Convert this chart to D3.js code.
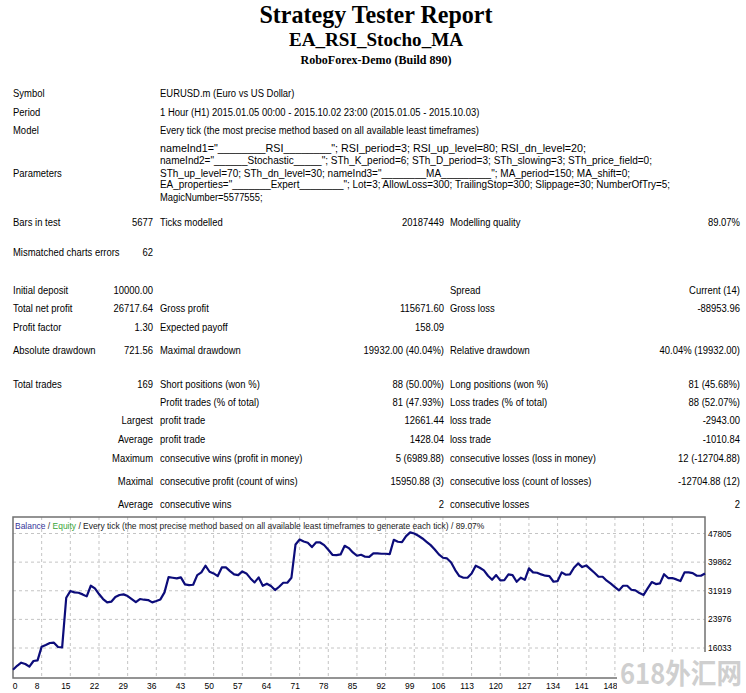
<!DOCTYPE html>
<html>
<head>
<meta charset="utf-8">
<script src="https://cdn.jsdelivr.net/npm/d3@7.9.0/dist/d3.min.js"></script>
<style>
  body { margin: 0; background: #fff; }
  svg { display: block; }
  text { fill: #000; }
</style>
</head>
<body>
<div id="report"></div>
<script>
// ---- data ----
const titleLines = ['Strategy Tester Report', 'EA_RSI_Stocho_MA', 'RoboForex-Demo (Build 890)'];

const infoRows = [
    ['Symbol', 'EURUSD.m (Euro vs US Dollar)'],
    ['Period', '1 Hour (H1) 2015.01.05 00:00 - 2015.10.02 23:00 (2015.01.05 - 2015.10.03)'],
    ['Model', 'Every tick (the most precise method based on all available least timeframes)'],
];

const paramLines = [
    'nameInd1="________RSI________"; RSI_period=3; RSI_up_level=80; RSI_dn_level=20;',
    'nameInd2="______Stochastic_____"; STh_K_period=6; STh_D_period=3; STh_slowing=3; STh_price_field=0;',
    'STh_up_level=70; STh_dn_level=30; nameInd3="________MA_________"; MA_period=150; MA_shift=0;',
    'EA_properties="_______Expert________"; Lot=3; AllowLoss=300; TrailingStop=300; Slippage=30; NumberOfTry=5;',
    'MagicNumber=5577555;',
];

// label, value, label, value, label, value
const statRows = [
    ['Bars in test', '5677', 'Ticks modelled', '20187449', 'Modelling quality', '89.07%'],
    ['Mismatched charts errors', '62', '', '', '', ''],
    ['Initial deposit', '10000.00', '', '', 'Spread', 'Current (14)'],
    ['Total net profit', '26717.64', 'Gross profit', '115671.60', 'Gross loss', '-88953.96'],
    ['Profit factor', '1.30', 'Expected payoff', '158.09', '', ''],
    ['Absolute drawdown', '721.56', 'Maximal drawdown', '19932.00 (40.04%)', 'Relative drawdown', '40.04% (19932.00)'],
    ['Total trades', '169', 'Short positions (won %)', '88 (50.00%)', 'Long positions (won %)', '81 (45.68%)'],
    ['', '', 'Profit trades (% of total)', '81 (47.93%)', 'Loss trades (% of total)', '88 (52.07%)'],
    ['', 'Largest', 'profit trade', '12661.44', 'loss trade', '-2943.00'],
    ['', 'Average', 'profit trade', '1428.04', 'loss trade', '-1010.84'],
    ['', 'Maximum', 'consecutive wins (profit in money)', '5 (6989.88)', 'consecutive losses (loss in money)', '12 (-12704.88)'],
    ['', 'Maximal', 'consecutive profit (count of wins)', '15950.88 (3)', 'consecutive loss (count of losses)', '-12704.88 (12)'],
    ['', 'Average', 'consecutive wins', '2', 'consecutive losses', '2'],
];

// balance after each trade (trade 0 = initial deposit)
const balance = [
    10000, 11100, 11950, 11600, 10860, 12430, 12610, 16400, 16870, 17420,
    17510, 16310, 16220, 29980, 31830, 31460, 31370, 30910, 30360, 33310,
    32570, 31000, 29620, 28690, 28880, 30170, 30730, 30910, 30450, 29620,
    28780, 29620, 29430, 29340, 28690, 29060, 29520, 31460, 35710, 35530,
    35340, 35620, 33680, 33500, 33590, 36270, 37010, 38860, 37190, 36730,
    35990, 38390, 38390, 37380, 36450, 36270, 37280, 36730, 35340, 34230,
    35620, 33310, 33870, 33220, 32110, 33030, 34140, 34140, 35530, 44770,
    46155, 45600, 45230, 44030, 45320, 45320, 44580, 43290, 41900, 41810,
    42000, 44400, 43750, 42550, 41630, 41900, 41350, 41300, 42270, 42270,
    42180, 42180, 42090, 46060, 45510, 45420, 47080, 48100, 47820, 47170,
    46430, 45510, 44580, 43380, 42000, 41070, 40890, 39780, 37650, 35990,
    35530, 35530, 36730, 38860, 38300, 37560, 36080, 34970, 36270, 34790,
    34880, 36450, 36270, 34420, 35530, 34970, 38120, 37010, 36920, 36450,
    36100, 35990, 34420, 34600, 37010, 36360, 36450, 38300, 39500, 38490,
    38950, 37930, 36920, 35810, 35810, 34700, 33870, 32940, 32020, 33310,
    33310, 32200, 32020, 31280, 30730, 32570, 34330, 33770, 33960, 36500,
    35440, 35440, 35070, 34600, 37010, 37010, 36820, 36080, 36080, 36717.64,
];

// the last two labels sit under the watermark and only their gridlines show
const xTickLabels = [0, 8, 15, 22, 29, 36, 43, 50, 57, 64, 71, 78, 85, 92, 99, 106, 113, 120, 127, 134, 141, 148, 155, 162];
const yTickValues = [16033, 23976, 31919, 39862, 47805];

const chartCaption = [
    ['Balance', '#34349a'],
    [' / ', '#333'],
    ['Equity', '#3aa63a'],
    [' / Every tick (the most precise method based on all available least timeframes to generate each tick) / 89.07%', '#222'],
];

// ---- drawing ----
const width = 746;
const height = 693;
const sans = '"Liberation Sans", Arial, sans-serif';
const serif = '"Liberation Serif", "Times New Roman", serif';

const svg = d3.select('#report')
    .append('svg')
    .attr('width', width)
    .attr('height', height)
    .attr('viewBox', `0 0 ${width} ${height}`);

svg.append('rect').attr('width', width).attr('height', height).attr('fill', '#fff');

function textWidth(str, family, size, weight) {
    const t = svg.append('text')
        .attr('font-family', family)
        .attr('font-size', size)
        .attr('font-weight', weight || 'normal')
        .text(str);
    const w = t.node().getComputedTextLength();
    t.remove();
    return w;
}

// the report is a bit squeezed sideways; fit the font to the Model line width
const kTable = 319 / textWidth(infoRows[2][1], sans, 11);

function put(g, str, x, y, anchor, k) {
    return g.append('text')
        .attr('transform', `translate(${x},${y}) scale(${k},1)`)
        .attr('text-anchor', anchor)
        .text(str);
}

// Titles
const titles = svg.append('g').attr('font-family', serif).attr('font-weight', 'bold').attr('text-anchor', 'middle');
const titleSizes = [25, 19, 13.5];
const titleBase = [23, 46, 64];
const titleWidth = [233, 174, 151];
titles.selectAll('text')
    .data(titleLines)
    .join('text')
    .attr('x', 376)
    .attr('y', (d, i) => titleBase[i])
    .attr('font-size', (d, i) => titleSizes[i])
    .attr('textLength', (d, i) => titleWidth[i])
    .attr('lengthAdjust', 'spacingAndGlyphs')
    .text((d) => d);

// Table
const table = svg.append('g').attr('font-family', sans).attr('font-size', 11);
const col = { a: 13, b: 153, c: 160, d: 444, e: 450, f: 740 };

const infoY = [97, 116, 134];
infoRows.forEach(([label, value], i) => {
    put(table, label, col.a, infoY[i], 'start', kTable);
    put(table, value, col.c, infoY[i], 'start', kTable);
});

// parameter lines: Tahoma punctuation is wider, so each line is fitted to its end
const paramY = [152, 164, 176.5, 188, 201];
const paramEnd = [586, 652, 630, 670, 262.5];
put(table, 'Parameters', col.a, 176.5, 'start', kTable);
table.selectAll('text.param')
    .data(paramLines)
    .join('text')
    .attr('class', 'param')
    .attr('x', col.c)
    .attr('y', (d, i) => paramY[i])
    .attr('textLength', (d, i) => paramEnd[i] - col.c)
    .attr('lengthAdjust', 'spacingAndGlyphs')
    .text((d) => d);

const statY = [226, 256, 294, 312, 330.5, 353.5, 387.5, 405.5, 424, 442.5, 461.5, 485, 507.5];
statRows.forEach((row, i) => {
    const y = statY[i];
    const [la, vb, lc, vd, le, vf] = row;
    if (la) put(table, la, col.a, y, 'start', kTable);
    if (vb) put(table, vb, col.b, y, 'end', kTable);
    if (lc) put(table, lc, col.c, y, 'start', kTable);
    if (vd) put(table, vd, col.d, y, 'end', kTable);
    if (le) put(table, le, col.e, y, 'start', kTable);
    if (vf) put(table, vf, col.f, y, 'end', kTable);
});

// Chart
const plot = { left: 13, right: 705, top: 517, bottom: 678 };
const watermarkBox = { x: 617, y: 652 };

const xScale = d3.scaleLinear()
    .domain([0, balance.length - 1])
    .range([plot.left, plot.right]);
const yScale = d3.scaleLinear()
    .domain([yTickValues[0], yTickValues[yTickValues.length - 1]])
    .range([648, 533.5]);

const chart = svg.append('g').attr('class', 'chart');

chart.append('rect')
    .attr('x', plot.left).attr('y', plot.top)
    .attr('width', plot.right - plot.left).attr('height', plot.bottom - plot.top)
    .attr('fill', '#fff');

// gridlines (MT4 puts them a trade before the printed number)
const grid = chart.append('g')
    .attr('stroke', '#c4c4c4')
    .attr('stroke-width', 1)
    .attr('stroke-dasharray', '3,3');
grid.selectAll('line.v')
    .data(xTickLabels.filter((d) => d > 0))
    .join('line')
    .attr('class', 'v')
    .attr('x1', (d) => xScale(d - 1)).attr('x2', (d) => xScale(d - 1))
    .attr('y1', plot.top).attr('y2', plot.bottom);
grid.selectAll('line.h')
    .data(yTickValues)
    .join('line')
    .attr('class', 'h')
    .attr('x1', plot.left).attr('x2', plot.right)
    .attr('y1', (d) => yScale(d)).attr('y2', (d) => yScale(d));

// frame
chart.append('rect')
    .attr('x', plot.left).attr('y', plot.top)
    .attr('width', plot.right - plot.left).attr('height', plot.bottom - plot.top)
    .attr('fill', 'none')
    .attr('stroke', '#707070')
    .attr('stroke-width', 1.5);

// balance line
const line = d3.line()
    .x((d, i) => xScale(i))
    .y((d) => yScale(d));
chart.append('path')
    .datum(balance)
    .attr('d', line)
    .attr('fill', 'none')
    .attr('stroke', '#0c0c7a')
    .attr('stroke-width', 2.2)
    .attr('stroke-linejoin', 'round');

// caption
const captionText = chartCaption.map((d) => d[0]).join('');
const kChart = 470 / textWidth(captionText, sans, 9);
const caption = chart.append('text')
    .attr('font-family', sans)
    .attr('font-size', 9)
    .attr('transform', `translate(15,529) scale(${kChart},1)`)
    .attr('xml:space', 'preserve');
caption.selectAll('tspan')
    .data(chartCaption)
    .join('tspan')
    .attr('fill', (d) => d[1])
    .text((d) => d[0]);

// axis labels
const labelX = (d) => (d === 0 ? xScale(0) + 2 : xScale(d - 1) - 4.5);
const axisLabels = chart.append('g').attr('font-family', sans).attr('font-size', 9);
axisLabels.selectAll('text.x')
    .data(xTickLabels.filter((d) => labelX(d) < watermarkBox.x))
    .join('text')
    .attr('class', 'x')
    .attr('transform', (d) => `translate(${labelX(d)},689) scale(${kChart},1)`)
    .attr('text-anchor', 'middle')
    .attr('fill', '#222')
    .text((d) => d);
axisLabels.selectAll('text.y')
    .data(yTickValues)
    .join('text')
    .attr('class', 'y')
    .attr('transform', (d) => `translate(708,${yScale(d) + 3}) scale(${kChart},1)`)
    .attr('fill', '#222')
    .text((d) => d);

// watermark pasted over the corner of the image
svg.append('rect')
    .attr('x', watermarkBox.x).attr('y', watermarkBox.y)
    .attr('width', width - watermarkBox.x).attr('height', height - watermarkBox.y)
    .attr('fill', '#fff');
svg.append('text')
    .attr('x', 620).attr('y', 684)
    .attr('font-family', '"Noto Sans CJK SC", "Noto Sans", sans-serif')
    .attr('font-weight', 'bold')
    .attr('font-size', 28)
    .attr('textLength', 122)
    .attr('lengthAdjust', 'spacingAndGlyphs')
    .style('fill', '#cfcfcf')
    .text('618外汇网');
</script>
</body>
</html>
